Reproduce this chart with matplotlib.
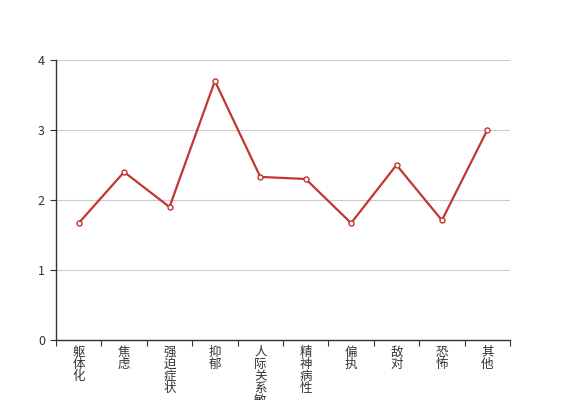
import matplotlib
matplotlib.use('Agg')
import matplotlib.pyplot as plt
import numpy as np

plt.rcParams['font.family'] = ['Noto Sans CJK SC', 'DejaVu Sans']

categories = ['躯体化', '焦虑', '强迫症状', '抑郁', '人际关系敏感',
              '精神病性', '偏执', '敌对', '恐怖', '其他']
values = [1.67, 2.40, 1.90, 3.70, 2.33, 2.30, 1.67, 2.50, 1.71, 3.00]
yticks = [0, 1, 2, 3, 4]

fig = plt.figure(figsize=(5.67, 4.0), dpi=100)
ax = fig.add_axes([56 / 567, 60 / 400, 454 / 567, 280 / 400])

x = np.arange(len(categories))
ax.plot(x, values, color='#c23531', lw=1.6, marker='o', ms=3.6,
        mfc='white', mec='#c23531', mew=1.0, zorder=3)

ax.set_xlim(-0.5, len(categories) - 0.5)
ax.set_ylim(0, 4)
ax.set_yticks(yticks)
ax.set_yticklabels([str(t) for t in yticks])
ax.yaxis.grid(True, color='#cccccc', lw=0.8)
ax.set_axisbelow(True)

ax.set_xticks(np.arange(-0.5, len(categories)), minor=False)
ax.set_xticklabels([])
ax.set_xticks(x, minor=True)
ax.set_xticklabels(['\n'.join(c) for c in categories], minor=True,
                   linespacing=0.92, va='top', fontsize=9, color='#333333')
ax.tick_params(axis='x', which='minor', length=0, pad=4)
ax.tick_params(axis='x', which='major', length=4, color='#333333', direction='out')
ax.tick_params(axis='y', length=4, color='#333333', labelcolor='#333333',
               labelsize=9, pad=4)

for s in ['top', 'right']:
    ax.spines[s].set_visible(False)
for s in ['left', 'bottom']:
    ax.spines[s].set_color('#333333')
    ax.spines[s].set_linewidth(1.0)

fig.savefig('out.png', dpi=100)
